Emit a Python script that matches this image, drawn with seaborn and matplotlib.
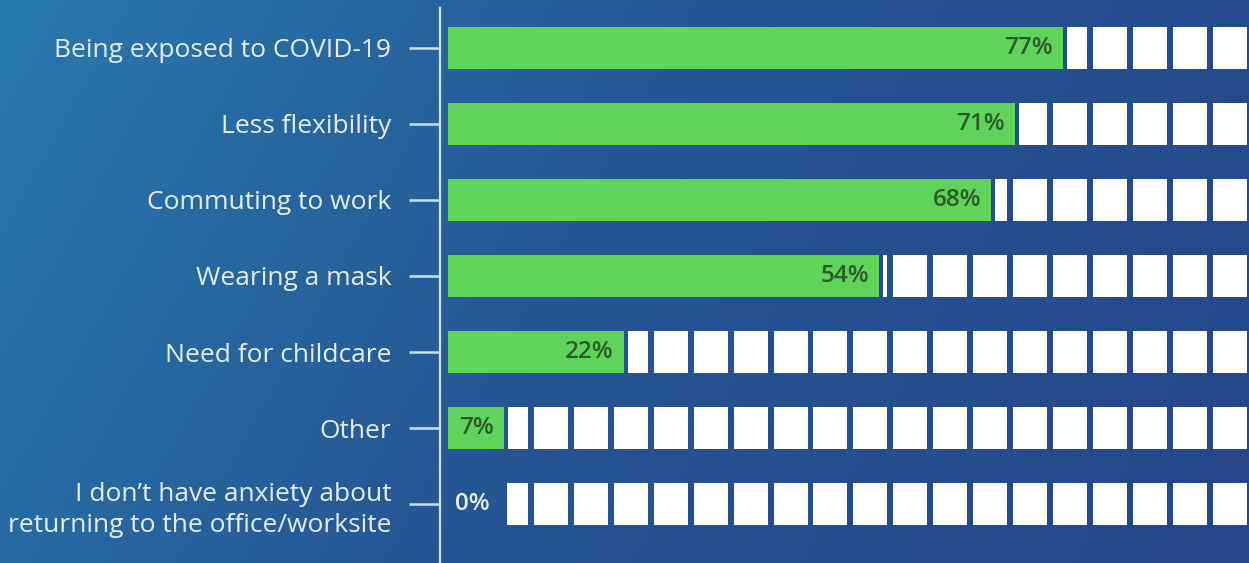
import numpy as np
import pandas as pd
import matplotlib
matplotlib.use("Agg")
import matplotlib.pyplot as plt
from matplotlib.colors import LinearSegmentedColormap
import seaborn as sns

categories = [
    "Being exposed to COVID-19",
    "Less flexibility",
    "Commuting to work",
    "Wearing a mask",
    "Need for childcare",
    "Other",
    "I don\u2019t have anxiety about\nreturning to the office/worksite",
]
values = [77, 71, 68, 54, 22, 7, 0]

df = pd.DataFrame({"category": categories, "value": values})

sns.set_theme(style="white")
plt.rcParams["font.family"] = ["Open Sans", "DejaVu Sans"]

W, H = 1249, 563
fig = plt.figure(figsize=(W / 100, H / 100), dpi=100)

# gradient background
bg = fig.add_axes([0, 0, 1, 1], zorder=-10)
xx, yy = np.meshgrid(np.linspace(0, 1, 400), np.linspace(0, 1, 200))
t = 0.8 * xx + 0.2 * yy
cmap = LinearSegmentedColormap.from_list("bg", ["#2979ae", "#265492", "#25468a"])
bg.imshow(t, cmap=cmap, aspect="auto", extent=[0, 1, 1, 0], vmin=0, vmax=1)
bg.set_axis_off()

ax = fig.add_axes([440 / W, 0, 809 / W, 555 / H])
ax.set_facecolor("none")

green = "#5fd35a"
line_col = "#cde2f4"
text_col = "#e4eef8"

sns.barplot(data=df, y="category", x="value", orient="h", color=green,
            width=0.54, saturation=1, linewidth=0, edgecolor="none",
            ax=ax, zorder=3)

# white squares filling the remainder up to 100% (20 blocks of 5%)
block = 5.0
sq_w = 4.26
gap = 0.5
zero_space = 7.4
for i, v in enumerate(values):
    start = v + gap if v > 0 else zero_space
    for k in range(20):
        right = 100 - block * k
        left = right - sq_w
        if right <= start + 0.3:
            continue
        left = max(left, start)
        ax.barh(i, right - left, left=left, height=0.54, color="white",
                edgecolor="none", linewidth=0, zorder=2)
    if v > 0:
        ax.text(v - 1.3, i, f"{v}%", ha="right", va="center", fontsize=17.5,
                fontweight="semibold", color="#2d5a2b", zorder=4)
    else:
        ax.text(0.9, i, f"{v}%", ha="left", va="center", fontsize=17.5,
                fontweight="semibold", color=text_col, zorder=4)

ax.set_xlim(-1.0, 100.25)
ax.set_ylim(6.776, -0.526)
ax.set_xlabel("")
ax.set_ylabel("")
ax.set_xticks([])

for s in ["top", "right", "bottom"]:
    ax.spines[s].set_visible(False)
ax.spines["left"].set_color(line_col)
ax.spines["left"].set_linewidth(1.6)

ax.tick_params(axis="y", which="major", left=True, length=22, width=1.8,
               color=line_col, pad=13, labelsize=19, labelcolor=text_col)
for lbl in ax.get_yticklabels():
    lbl.set_linespacing(1.3)

fig.savefig("out.png", dpi=100)
